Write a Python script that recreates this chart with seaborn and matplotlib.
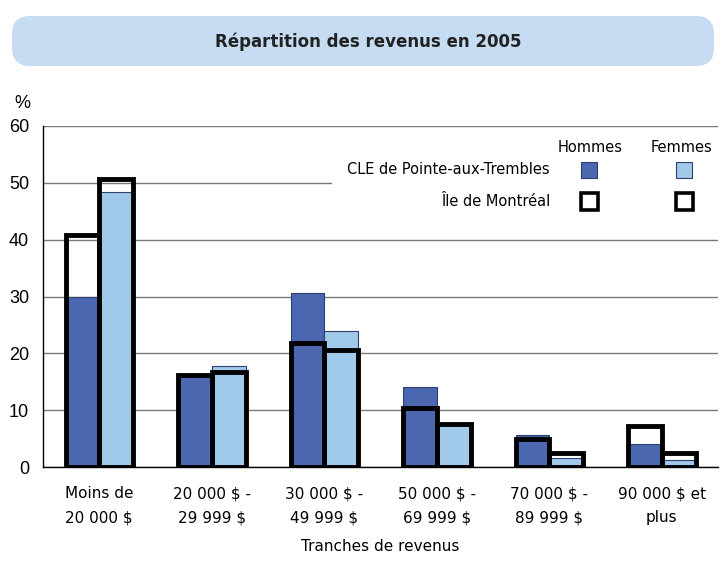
import numpy as np
import pandas as pd
import matplotlib
matplotlib.use("Agg")
import matplotlib.pyplot as plt
from matplotlib.patches import FancyBboxPatch, Rectangle
import seaborn as sns

# données (%)
tranches = ["Moins de\n20 000 $", "20 000 $ -\n29 999 $", "30 000 $ -\n49 999 $",
            "50 000 $ -\n69 999 $", "70 000 $ -\n89 999 $", "90 000 $ et\nplus"]
cle_hommes = [30.0, 16.0, 30.7, 14.1, 5.6, 4.0]
cle_femmes = [48.3, 17.7, 24.0, 7.4, 1.6, 1.2]
ile_hommes = [40.9, 16.2, 21.8, 10.3, 4.9, 7.2]
ile_femmes = [50.7, 16.7, 20.6, 7.6, 2.5, 2.5]
sexes = ["Hommes", "Femmes"]

dark_blue = "#4a67b0"
light_blue = "#a0c9ea"

cle = pd.DataFrame({"tranche": tranches * 2,
                    "sexe": ["Hommes"] * 6 + ["Femmes"] * 6,
                    "pct": cle_hommes + cle_femmes})
ile = pd.DataFrame({"tranche": tranches * 2,
                    "sexe": ["Hommes"] * 6 + ["Femmes"] * 6,
                    "pct": ile_hommes + ile_femmes})

sns.set_style("white")
plt.rcParams["font.family"] = ["DejaVu Sans"]
plt.rcParams["text.color"] = "black"
plt.rcParams["axes.labelcolor"] = "black"
plt.rcParams["xtick.color"] = "black"
plt.rcParams["ytick.color"] = "black"

W, H = 722, 561
fig = plt.figure(figsize=(W / 100, H / 100), dpi=100)
ax = fig.add_axes([43 / W, 1 - 467 / H, (718 - 43) / W, (467 - 126) / H])

def fx(px):
    return px / W

def fy(py):
    return 1 - py / H

# barres CLE
sns.barplot(data=cle, x="tranche", y="pct", hue="sexe", hue_order=sexes,
            palette=[dark_blue, light_blue], saturation=1, width=0.6,
            edgecolor="#2f3f70", linewidth=0.8, legend=False, ax=ax, zorder=2)
n_cle = len(ax.patches)
# contours Île de Montréal
sns.barplot(data=ile, x="tranche", y="pct", hue="sexe", hue_order=sexes,
            palette=[dark_blue, light_blue], width=0.6, legend=False, ax=ax)
for p in ax.patches[n_cle:]:
    p.set_facecolor("none")
    p.set_edgecolor("black")
    p.set_linewidth(3.5)
    p.set_zorder(3)

ax.set_ylim(0, 60)
ax.set_xlim(-0.5, 5.5)
ax.set_yticks(range(0, 61, 10))
ax.yaxis.grid(True, color="#7a7a7a", linewidth=1.0)
ax.set_axisbelow(True)
for s in ["top", "right"]:
    ax.spines[s].set_visible(False)
for s in ["left", "bottom"]:
    ax.spines[s].set_color("black")
    ax.spines[s].set_linewidth(1.0)
ax.tick_params(axis="both", length=0)
ax.tick_params(axis="x", pad=14)
ax.set_xticks(range(6))
ax.set_xticklabels(tranches, fontsize=11, linespacing=1.75)
for t in ax.get_yticklabels():
    t.set_fontfamily("Liberation Sans")
    t.set_fontsize(13)
ax.tick_params(axis="y", pad=10)
ax.set_xlabel("Tranches de revenus", fontsize=11, labelpad=10)
ax.set_ylabel("")

# fond blanc de la légende (masque la grille)
ax.add_patch(Rectangle((fx(332), fy(222)), fx(718) - fx(332), fy(136) - fy(222),
                       transform=fig.transFigure, facecolor="white",
                       edgecolor="none", zorder=1.5))

# légende
fig.text(fx(590), fy(148), "Hommes", ha="center", va="center", fontsize=10.5)
fig.text(fx(682), fy(148), "Femmes", ha="center", va="center", fontsize=10.5)
fig.text(fx(550), fy(170), "CLE de Pointe-aux-Trembles", ha="right", va="center", fontsize=10.5)
fig.text(fx(550), fy(201), "Île de Montréal", ha="right", va="center", fontsize=10.5)
sq = 16
for cx, col in [(589, dark_blue), (684, light_blue)]:
    fig.add_artist(Rectangle((fx(cx - sq / 2), fy(170 + sq / 2)), sq / W, sq / H,
                             transform=fig.transFigure, facecolor=col,
                             edgecolor="#2f3f70", linewidth=0.8))
    s2 = sq + 1
    fig.add_artist(Rectangle((fx(cx - s2 / 2), fy(201 + s2 / 2)), s2 / W, s2 / H,
                             transform=fig.transFigure, facecolor="white",
                             edgecolor="black", linewidth=2.6))

# titre dans un cadre arrondi
fig.add_artist(FancyBboxPatch((fx(12), fy(66)), fx(714) - fx(12), fy(16) - fy(66),
                              boxstyle="round,pad=0,rounding_size=0.025",
                              transform=fig.transFigure, facecolor="#c5dcf2",
                              edgecolor="none", mutation_aspect=W / H))
fig.text(fx(368), fy(42), "Répartition des revenus en 2005", ha="center", va="center",
         fontsize=12, fontweight="bold", color="#222222")

fig.text(fx(22), fy(103), "%", ha="center", va="center", fontsize=13,
         fontfamily="Liberation Sans")

fig.savefig("out.png", dpi=100, facecolor="white")
